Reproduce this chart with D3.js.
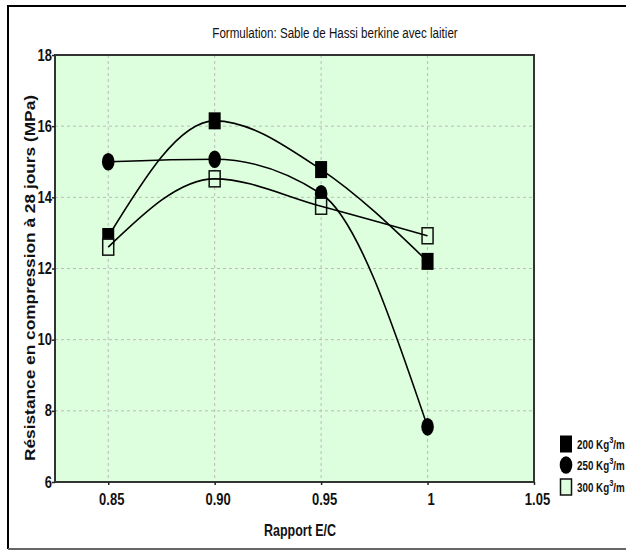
<!DOCTYPE html>
<html>
<head>
<meta charset="utf-8">
<script src="https://cdn.jsdelivr.net/npm/d3@7"></script>
<style>
  html, body { margin: 0; padding: 0; background: #fff; }
  svg { display: block; }
  .narrow { font-family: "Liberation Sans Narrow", "Arial Narrow", "Liberation Sans", Arial, sans-serif; }
</style>
</head>
<body>
<svg id="chart" width="626" height="552"></svg>
<script>
// Rapport E/C (water/cement ratio)
const ratios = [0.85, 0.90, 0.95, 1.00];
// 28-day compressive strength (MPa) for each cement dosage
const dosage200 = [12.9, 16.15, 14.78, 12.2];
const dosage250 = [15.0, 15.07, 14.1, 7.55];
const dosage300 = [12.6, 14.52, 13.75, 12.92];
const seriesNames = ["200 Kg", "250 Kg", "300 Kg"];
const xTickValues = [0.85, 0.90, 0.95, 1.00, 1.05];
const xTickLabels = ["0.85", "0.90", "0.95", "1", "1.05"];
const yTickValues = [6, 8, 10, 12, 14, 16, 18];

const svg = d3.select("#chart");
const bg = "#ddffdd";
const plot = { left: 55, right: 534, top: 55, bottom: 482 };
const stretch = 1.3; // tall lettering

const x = d3.scaleLinear().domain([0.825, 1.05]).range([plot.left, plot.right]);
const y = d3.scaleLinear().domain([6, 18]).range([plot.bottom, plot.top]);

// outer frame
svg.append("path")
  .attr("d", "M8,549 L8,6 L640,6")
  .attr("fill", "none").attr("stroke", "#000").attr("stroke-width", 2);
svg.append("line")
  .attr("x1", 8).attr("x2", 640).attr("y1", 549).attr("y2", 549)
  .attr("stroke", "#666").attr("stroke-width", 2);

// title
svg.append("text").attr("class", "narrow")
  .attr("transform", `translate(335,38) scale(1,${stretch})`)
  .attr("text-anchor", "middle")
  .attr("font-size", 11.6).attr("fill", "#111")
  .text("Formulation: Sable de Hassi berkine avec laitier");

// plot background
svg.append("rect")
  .attr("x", plot.left).attr("y", plot.top)
  .attr("width", plot.right - plot.left).attr("height", plot.bottom - plot.top)
  .attr("fill", bg);

// grid
const grid = svg.append("g").attr("stroke", "#bbbbbb").attr("stroke-width", 1).attr("stroke-dasharray", "3,3");
grid.selectAll("line.gx").data(xTickValues.filter(v => v < 1.05)).join("line")
  .attr("x1", d => x(d)).attr("x2", d => x(d))
  .attr("y1", plot.top).attr("y2", plot.bottom);
grid.selectAll("line.gy").data(yTickValues.filter(v => v > 6 && v < 18)).join("line")
  .attr("y1", d => y(d)).attr("y2", d => y(d))
  .attr("x1", plot.left).attr("x2", plot.right);

// plot border
svg.append("rect")
  .attr("x", plot.left).attr("y", plot.top)
  .attr("width", plot.right - plot.left).attr("height", plot.bottom - plot.top)
  .attr("fill", "none").attr("stroke", "#333").attr("stroke-width", 2);

// axes
const yAxis = svg.append("g").attr("transform", `translate(${plot.left},0)`)
  .call(d3.axisLeft(y).tickValues(yTickValues).tickFormat(d3.format("d")).tickSize(3).tickPadding(1));
const xAxis = svg.append("g").attr("transform", `translate(0,${plot.bottom})`)
  .call(d3.axisBottom(x).tickValues(xTickValues).tickFormat((d, i) => xTickLabels[i]).tickSize(3));
[yAxis, xAxis].forEach(g => {
  g.select(".domain").remove();
  g.selectAll(".tick line").attr("stroke", "#222").attr("stroke-width", 1.5);
  g.selectAll(".tick text").attr("class", "narrow")
    .attr("font-size", 13).attr("font-weight", "bold").attr("fill", "#111");
});
yAxis.selectAll(".tick text")
  .attr("x", -3).attr("y", 0).attr("dy", null)
  .attr("transform", `translate(0,5) scale(1,${stretch})`);
xAxis.selectAll(".tick text")
  .attr("x", 3).attr("y", 0).attr("dy", null)
  .attr("transform", `translate(0,23) scale(1,${stretch})`);

// axis titles
svg.append("text")
  .attr("transform", `translate(35,278) rotate(-90)`)
  .attr("text-anchor", "middle")
  .attr("font-family", "'Liberation Sans', Arial, sans-serif")
  .attr("font-size", 15.5).attr("font-weight", "bold").attr("fill", "#111")
  .attr("textLength", 366).attr("lengthAdjust", "spacingAndGlyphs")
  .text("Résistance en compression à 28 jours (MPa)");
svg.append("text").attr("class", "narrow")
  .attr("transform", `translate(300,536) scale(1,${stretch})`)
  .attr("text-anchor", "middle")
  .attr("font-size", 12.5).attr("font-weight", "bold").attr("fill", "#111")
  .text("Rapport E/C");

// data
const series = [
  { name: seriesNames[0], values: dosage200, shape: "square" },
  { name: seriesNames[1], values: dosage250, shape: "circle" },
  { name: seriesNames[2], values: dosage300, shape: "open" }
];

function drawMarker(g, shape, cx, cy) {
  if (shape === "circle") {
    g.append("ellipse").attr("cx", cx).attr("cy", cy).attr("rx", 6.3).attr("ry", 8.8).attr("fill", "#000");
  } else if (shape === "square") {
    g.append("rect").attr("x", cx - 6).attr("y", cy - 8.5).attr("width", 12).attr("height", 17).attr("fill", "#000");
  } else {
    g.append("rect").attr("x", cx - 5.5).attr("y", cy - 8).attr("width", 11).attr("height", 16)
      .attr("fill", bg).attr("stroke", "#111").attr("stroke-width", 1.5);
  }
}

const markers = svg.append("g");
series.forEach(s => {
  s.values.forEach((v, i) => drawMarker(markers, s.shape, x(ratios[i]), y(v)));
});

const line = d3.line().x((d, i) => x(ratios[i])).y(d => y(d)).curve(d3.curveMonotoneX);
svg.append("g").selectAll("path").data(series).join("path")
  .attr("d", s => line(s.values))
  .attr("fill", "none").attr("stroke", "#000").attr("stroke-width", 1.6);

// legend
const legendY = [444, 465, 487];
const legend = svg.append("g");
series.forEach((s, i) => {
  drawMarker(legend, s.shape, 566, legendY[i]);
  const t = legend.append("text").attr("class", "narrow")
    .attr("transform", `translate(577,${legendY[i] + 5}) scale(1,${stretch})`)
    .attr("font-size", 9.8).attr("font-weight", "bold").attr("fill", "#111");
  t.append("tspan").text(s.name);
  t.append("tspan").attr("dy", -4.5).attr("font-size", 7.5).text("3");
  t.append("tspan").attr("dy", 4.5).text("/m");
});
</script>
</body>
</html>
